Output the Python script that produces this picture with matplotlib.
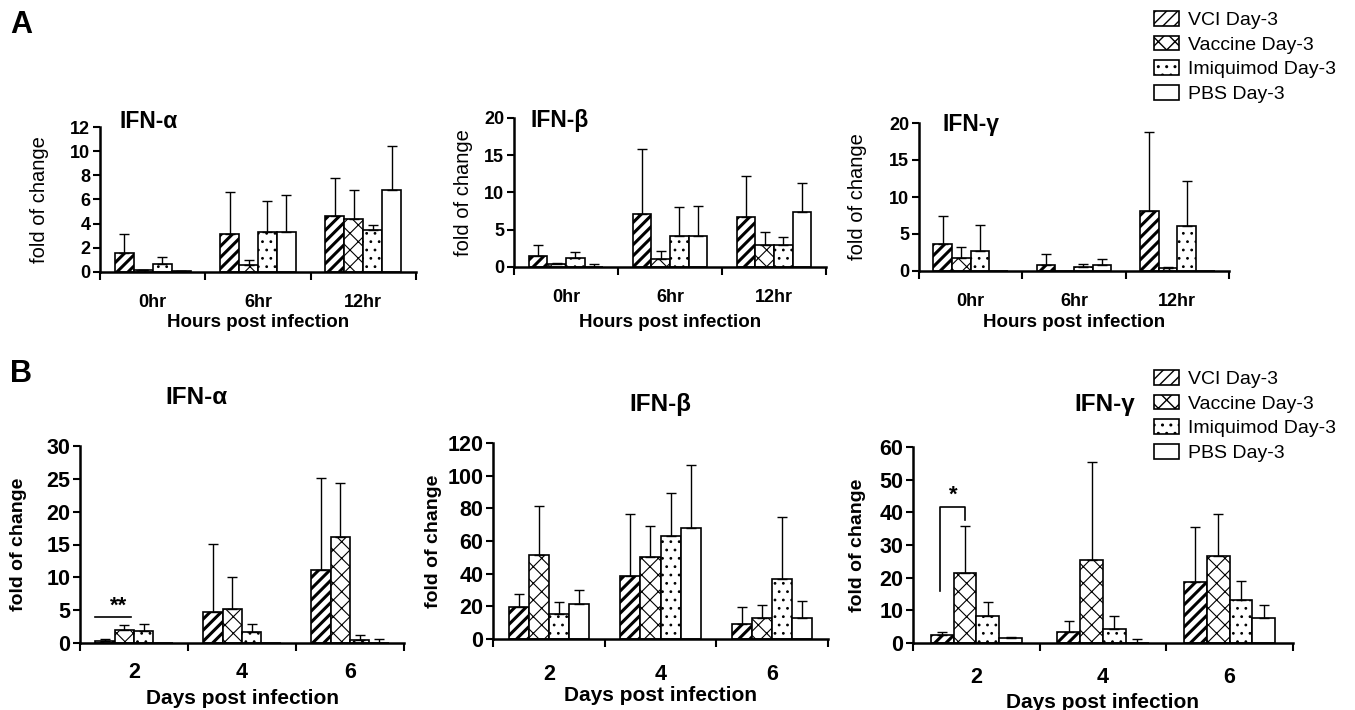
import numpy as np
import matplotlib
matplotlib.use("Agg")
import matplotlib.pyplot as plt

plt.rcParams['font.family'] = ['Liberation Sans', 'DejaVu Sans']

# Data (mean and upper SD)
groups = ['VCI Day-3', 'Vaccine Day-3', 'Imiquimod Day-3', 'PBS Day-3']
hatches = ['///', 'xx', '..', '']

hours = ['0hr', '6hr', '12hr']
days = ['2', '4', '6']

# Panel A : hours post infection
a_alpha_mean = [[1.6, 3.15, 4.6], [0.15, 0.6, 4.4], [0.7, 3.35, 3.45], [0.08, 3.35, 6.8]]
a_alpha_sd = [[1.55, 3.45, 3.15], [0.05, 0.4, 2.4], [0.5, 2.5, 0.45], [0.04, 3.05, 3.6]]

a_beta_mean = [[1.45, 7.15, 6.65], [0.35, 1.1, 3.0], [1.25, 4.2, 3.0], [0.05, 4.2, 7.35]]
a_beta_sd = [[1.5, 8.75, 5.5], [0.15, 1.0, 1.75], [0.7, 3.8, 1.0], [0.3, 3.95, 3.95]]

a_gamma_mean = [[3.7, 0.85, 8.1], [1.75, 0.0, 0.4], [2.75, 0.6, 6.05], [0.0, 0.85, 0.0]]
a_gamma_sd = [[3.75, 1.4, 10.7], [1.45, 0.0, 0.2], [3.45, 0.4, 6.15], [0.0, 0.8, 0.0]]

# Panel B : days post infection
b_alpha_mean = [[0.35, 4.7, 11.1], [2.05, 5.15, 16.1], [1.9, 1.65, 0.5], [0.0, 0.0, 0.05]]
b_alpha_sd = [[0.25, 10.4, 14.0], [0.7, 4.85, 8.3], [1.0, 1.25, 0.7], [0.0, 0.0, 0.5]]

b_beta_mean = [[19.6, 38.3, 9.2], [51.5, 50.5, 12.7], [15.3, 63.0, 36.5], [21.4, 68.0, 12.7]]
b_beta_sd = [[8.2, 38.5, 10.3], [29.8, 18.5, 8.4], [7.1, 26.4, 37.9], [8.8, 38.8, 10.5]]

b_gamma_mean = [[2.6, 3.4, 18.7], [21.3, 25.3, 26.6], [8.4, 4.4, 13.3], [1.6, 0.1, 7.6]]
b_gamma_sd = [[0.8, 3.2, 16.7], [14.6, 30.1, 12.8], [4.0, 4.0, 5.7], [0.3, 1.1, 3.9]]

# significance marks (values in fold of change)
b_alpha_sig_y = 3.95
b_gamma_sig_y = [15.9, 41.6, 37.7]

fig = plt.figure(figsize=(13.55, 7.10), dpi=100)
W, H = 1355, 710


def px_axes(left, right, bottom, top):
    return fig.add_axes([left / W, 1 - bottom / H, (right - left) / W, (bottom - top) / H])


bw = 0.18
offsets = (np.arange(4) - 1.5) * bw


def draw_panel(ax, means, sds, labels, ymax, ystep, tick_fs, xlabel, xlabel_fs,
               ylabel_bold, ylab_fs, ylab_x, xpad, xlab_y):
    x = np.arange(3) + 0.5
    bars = []
    for i in range(4):
        m = np.array(means[i])
        s = np.array(sds[i])
        with plt.rc_context({'hatch.linewidth': 2.2 if i == 0 else 0.8}):
            b = ax.bar(x + offsets[i], m, bw, color='white', edgecolor='black',
                       linewidth=1.2, hatch=hatches[i], zorder=2)
        bars.append(b)
        keep = (m > 0) | (s > 0)
        ax.errorbar((x + offsets[i])[keep], m[keep], yerr=[np.zeros(keep.sum()), s[keep]],
                    fmt='none', ecolor='black', elinewidth=1.0, capsize=3.5, capthick=1.0, zorder=3)
    ax.set_xlim(0, 3)
    ax.set_ylim(0, ymax)
    ax.set_yticks(np.arange(0, ymax + 0.01, ystep))
    ax.set_xticks([0, 1, 2, 3])
    ax.set_xticklabels([])
    ax.set_xticks(x, minor=True)
    ax.set_xticklabels(labels, minor=True, fontsize=tick_fs, fontweight='bold')
    ax.tick_params(axis='x', which='major', direction='out', length=6, width=1.5)
    ax.tick_params(axis='x', which='minor', length=0, pad=xpad)
    ax.tick_params(axis='y', direction='out', length=5, width=1.5, labelsize=tick_fs, pad=2)
    for t in ax.get_yticklabels():
        t.set_fontweight('bold')
    for sp in ['top', 'right']:
        ax.spines[sp].set_visible(False)
    for sp in ['left', 'bottom']:
        ax.spines[sp].set_linewidth(1.8)
    ax.set_xlabel(xlabel, fontsize=xlabel_fs, fontweight='bold')
    ax.xaxis.set_label_coords(0.5, xlab_y)
    ax.set_ylabel('fold of change', fontsize=ylab_fs,
                  fontweight='bold' if ylabel_bold else 'normal', va='center')
    ax.yaxis.set_label_coords(ylab_x, 0.5)
    return bars


# --- Row A ---
axA1 = px_axes(100, 416, 272, 127)
axA2 = px_axes(514, 826, 267, 118)
axA3 = px_axes(919, 1229, 271, 123)
barsA = draw_panel(axA1, a_alpha_mean, a_alpha_sd, hours, 12, 2, 13, 'Hours post infection', 13.5,
                   False, 14.5, -0.19, 16, -42 / 145)
draw_panel(axA2, a_beta_mean, a_beta_sd, hours, 20, 5, 13, 'Hours post infection', 13.5,
           False, 14.5, -0.163, 16, -47 / 149)
draw_panel(axA3, a_gamma_mean, a_gamma_sd, hours, 20, 5, 13, 'Hours post infection', 13.5,
           False, 14.5, -0.197, 16, -43 / 148)

# --- Row B ---
axB1 = px_axes(80, 404, 643, 446)
axB2 = px_axes(493, 828, 639, 443)
axB3 = px_axes(913, 1293, 643, 447)
draw_panel(axB1, b_alpha_mean, b_alpha_sd, days, 30, 5, 15.5, 'Days post infection', 15,
           True, 14, -0.191, 14, -46 / 197)
draw_panel(axB2, b_beta_mean, b_beta_sd, days, 120, 20, 15.5, 'Days post infection', 15,
           True, 14, -0.179, 18, -47 / 196)
draw_panel(axB3, b_gamma_mean, b_gamma_sd, days, 60, 10, 15.5, 'Days post infection', 15,
           True, 14, -0.145, 17, -50 / 196)

# panel titles
fig.text(120 / W, 1 - 122 / H, 'IFN-α', fontsize=16.5, fontweight='bold', va='center', ha='left')
fig.text(530 / W, 1 - 121 / H, 'IFN-β', fontsize=16.5, fontweight='bold', va='center', ha='left')
fig.text(942 / W, 1 - 125 / H, 'IFN-γ', fontsize=16.5, fontweight='bold', va='center', ha='left')
fig.text(196 / W, 1 - 398 / H, 'IFN-α', fontsize=17.5, fontweight='bold', va='center', ha='center')
fig.text(660 / W, 1 - 404 / H, 'IFN-β', fontsize=17.5, fontweight='bold', va='center', ha='center')
fig.text(1105 / W, 1 - 404 / H, 'IFN-γ', fontsize=17.5, fontweight='bold', va='center', ha='center')

fig.text(10 / W, 1 - 25 / H, 'A', fontsize=22, fontweight='bold', va='center', ha='left')
fig.text(10 / W, 1 - 374 / H, 'B', fontsize=22, fontweight='bold', va='center', ha='left')

# significance marks
c0 = 0.5 + offsets
axB1.plot([c0[0] - bw / 2, c0[1] + bw / 3], [b_alpha_sig_y, b_alpha_sig_y], color='black', lw=1.2)
axB1.text((c0[0] + c0[1]) / 2 + 0.04, b_alpha_sig_y + 0.1, '**', ha='center', va='bottom',
          fontsize=16, fontweight='bold')
axB3.plot([c0[0] - 0.015, c0[0] - 0.015, c0[1], c0[1]],
          [b_gamma_sig_y[0], b_gamma_sig_y[1], b_gamma_sig_y[1], b_gamma_sig_y[2]], color='black', lw=1.2)
axB3.text((c0[0] + c0[1]) / 2, b_gamma_sig_y[1] + 0.3, '*', ha='center', va='bottom',
          fontsize=16, fontweight='bold')

# legends
for ytop in [11, 370]:
    fig.legend(barsA, groups, loc='upper left', bbox_to_anchor=(1154 / W, 1 - ytop / H),
               frameon=False, fontsize=14, handlelength=1.3, handleheight=0.8,
               handletextpad=0.45, labelspacing=0.33, borderpad=0.0, borderaxespad=0.0)

fig.savefig('out.png', dpi=100)
